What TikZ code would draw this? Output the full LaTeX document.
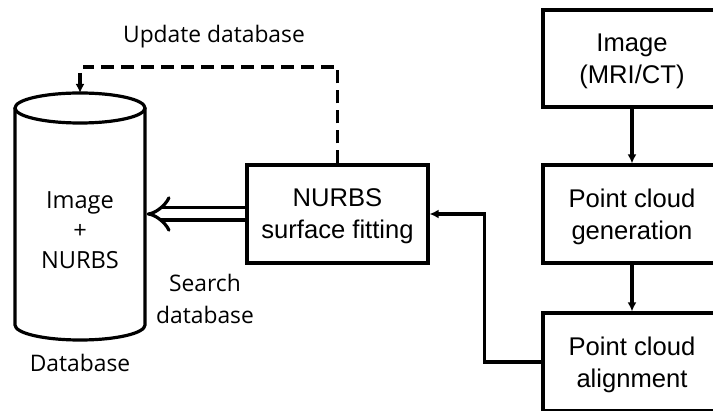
\documentclass[tikz,border=0pt]{standalone}
\usepackage{fontspec}
\setmainfont{Liberation Sans}
\newfontfamily\lbl{Open Sans}
\usetikzlibrary{arrows.meta}
\begin{document}
\begin{tikzpicture}[x=0.5pt,y=-0.5pt,line width=1.6pt,
  box/.style={draw,align=center,font=\fontsize{12.8}{16}\selectfont,inner sep=0pt,text depth=-1.3pt},
  lab/.style={align=center,font=\lbl\fontsize{11.4}{16}\selectfont,inner sep=0pt},
  arr/.style={-{Latex[length=4.5pt,width=4.5pt]}},
  dbl/.style={double,double distance=4.5pt,-{Implies[scale=1.5]}},
  dsh/.style={dash pattern=on 6.5pt off 3.5pt}]
\clip (0,0) rectangle (713,411);
% right column
\node[box,minimum width=89pt,minimum height=48.5pt] (img) at (632,58.5) {Image\\(MRI/CT)};
\node[box,minimum width=89pt,minimum height=49pt] (gen) at (632,214) {Point cloud\\generation};
\node[box,minimum width=89pt,minimum height=49pt] (ali) at (632,362) {Point cloud\\alignment};
% NURBS fitting
\node[box,minimum width=90.5pt,minimum height=49pt] (fit) at (337.5,214) {NURBS\\surface fitting};
% database cylinder
\node[inner sep=0pt,minimum width=65pt,minimum height=108.5pt] (db) at (80,216.5) {};
\draw (80,108) ellipse [x radius=32.5pt,y radius=7.5pt];
\draw (15,108) -- (15,325) arc[start angle=180,end angle=360,x radius=32.5pt,y radius=7.5pt] -- (145,108);
\node[lab,font=\lbl\fontsize{11.8}{15}\selectfont] (dbtxt) at (80,230) {Image\\+\\NURBS};
\node[lab] (dblab) at (80,363) {Database};
\node[lab] (upd) at (214,37) {Update database};
\node[lab] (srch) at (205,299) {Search\\database};
% connectors
\draw[arr] (img) -- (gen);
\draw[arr] (gen) -- (ali);
\draw[arr] (ali.west) -- ++(-57,0) |- (fit.east);
\draw[dbl] (fit.west) -- (fit.west -| db.east);
\coordinate (dend) at (80,73);
\draw[dsh] (fit.north) |- (83,67);
\draw[arr] (dend) -- (80,93);
\end{tikzpicture}
\end{document}
